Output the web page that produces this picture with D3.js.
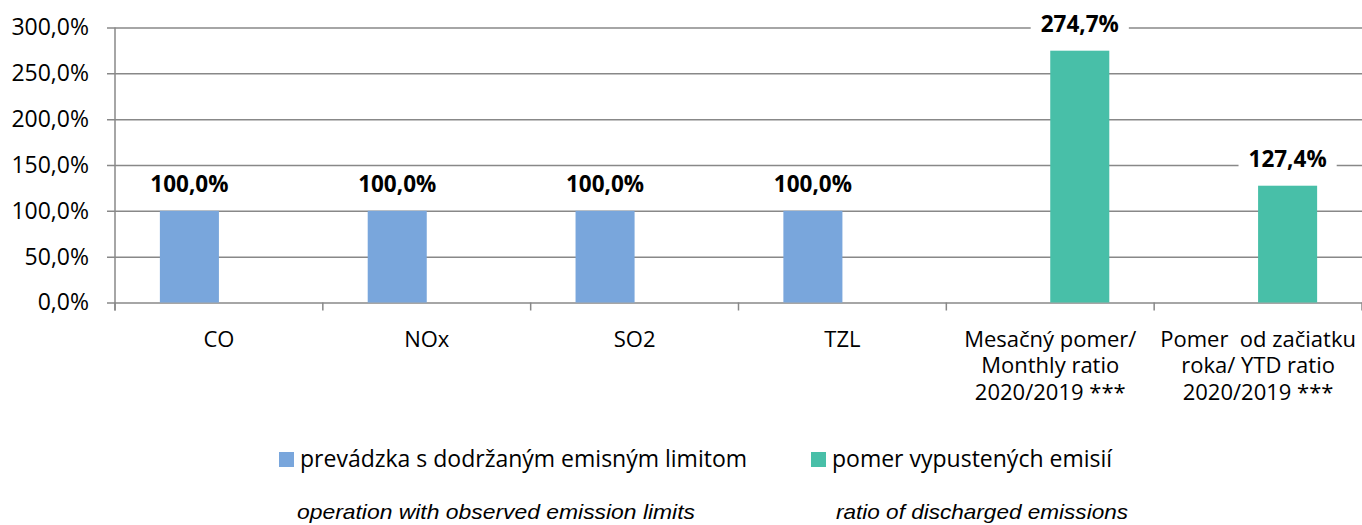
<!DOCTYPE html>
<html>
<head>
<meta charset="utf-8">
<script src="https://cdn.jsdelivr.net/npm/d3@7"></script>
<style>
  html, body { margin: 0; padding: 0; background: #fff; }
  svg { display: block; }
  text { font-family: "Open Sans", "Noto Sans", sans-serif; fill: #000; }
</style>
</head>
<body>
<svg id="chart" width="1362" height="525"></svg>
<script>
// ---- data ----
const categories = ["CO", "NOx", "SO2", "TZL", "Mesačný pomer/|Monthly ratio|2020/2019 ***", "Pomer  od začiatku|roka/ YTD ratio|2020/2019 ***"];
const seriesNames = ["prevádzka s dodržaným emisným limitom", "pomer vypustených emisií"];
const seriesNotes = ["operation with observed emission limits", "ratio of discharged emissions"];
const complianceValues = [100, 100, 100, 100, null, null];
const ratioValues = [null, null, null, null, 274.7, 127.4];
const yTicks = [0, 50, 100, 150, 200, 250, 300];
const colors = ["#79A6DC", "#48BFA8"];

// ---- layout ----
const svg = d3.select("#chart");
const pLeft = 115, pRight = 1362, pTop = 27.5, pBottom = 302.5;
const locale = d3.formatLocale({decimal: ",", thousands: " ", grouping: [3], currency: ["", " €"]});
const pct = v => locale.format(".1f")(v) + "%";

const x = d3.scaleBand().domain(categories).range([pLeft, pRight]).paddingInner(0).paddingOuter(0);
const xSub = d3.scaleBand().domain([0, 1]).range([0, x.bandwidth()]).paddingInner(0).paddingOuter(0.76);
const y = d3.scaleLinear().domain([0, 300]).range([pBottom, pTop]);

// gridlines + y labels
const yAxis = d3.axisLeft(y).tickValues(yTicks).tickFormat(pct)
  .tickSizeInner(-(pRight - (pLeft - 8))).tickSizeOuter(0).tickPadding(18);
const gy = svg.append("g").attr("transform", `translate(${pLeft - 8},0)`).call(yAxis);
gy.select(".domain").remove();
gy.selectAll(".tick line").attr("stroke", "#888").attr("stroke-width", 1.5);
gy.selectAll(".tick text").attr("font-size", 23).attr("fill", "#000")
  .style("font-family", '"Open Sans", sans-serif');

// vertical axis line
svg.append("line").attr("x1", pLeft).attr("x2", pLeft).attr("y1", y(300)).attr("y2", pBottom + 8)
  .attr("stroke", "#888").attr("stroke-width", 1.5);

// bottom category boundary ticks
const bounds = categories.map(c => x(c)).concat([x(categories[categories.length - 1]) + x.bandwidth()]);
svg.append("g").selectAll("line").data(bounds).join("line")
  .attr("x1", d => d).attr("x2", d => d).attr("y1", pBottom).attr("y2", pBottom + 8)
  .attr("stroke", "#888").attr("stroke-width", 1.5);

// category labels
const xAxis = d3.axisBottom(x).tickSize(0).tickFormat("");
const gx = svg.append("g").attr("transform", `translate(0,${pBottom})`).call(xAxis);
gx.select(".domain").remove();
gx.selectAll(".tick").each(function(d) {
  const lines = d.split("|");
  const t = d3.select(this).append("text").attr("text-anchor", "middle").attr("font-size", 22)
    .style("white-space", "pre").attr("fill", "#000");
  lines.forEach((ln, i) => {
    t.append("tspan").attr("x", 0).attr("y", 44 + i * 26.5).text(ln);
  });
});

// bars
const seriesData = [complianceValues, ratioValues];
seriesData.forEach((vals, si) => {
  const g = svg.append("g");
  const data = categories.map((c, i) => ({c, v: vals[i]})).filter(d => d.v != null);
  g.selectAll("rect").data(data).join("rect")
    .attr("x", d => x(d.c) + xSub(si)).attr("width", xSub.bandwidth())
    .attr("y", d => y(d.v)).attr("height", d => y(0) - y(d.v))
    .attr("fill", colors[si]);
  const vg = svg.append("g");
  data.forEach(d => {
    const cx = x(d.c) + xSub(si) + xSub.bandwidth() / 2;
    const t = vg.append("text").attr("x", cx).attr("y", y(d.v) - 19)
      .attr("text-anchor", "middle").attr("font-size", 22.5).attr("font-weight", "bold").text(pct(d.v));
    const bb = t.node().getBBox();
    vg.insert("rect", "text").attr("x", bb.x - 10).attr("y", bb.y + 3).attr("width", bb.width + 20)
      .attr("height", bb.height - 6).attr("fill", "#fff");
  });
});

// legend
const legendX = [279, 811];
const noteX = [297, 836];
const noteW = [398, 292];
const legendG = svg.append("g");
seriesNames.forEach((n, i) => {
  legendG.append("rect").attr("x", legendX[i]).attr("y", 452).attr("width", 15).attr("height", 15).attr("fill", colors[i]);
  legendG.append("text").attr("x", legendX[i] + 21).attr("y", 467).attr("font-size", 23).text(n);
  legendG.append("text").attr("x", noteX[i]).attr("y", 519).attr("font-size", 21)
    .attr("textLength", noteW[i]).attr("lengthAdjust", "spacingAndGlyphs")
    .style("font-family", '"Liberation Sans", Arial, sans-serif').attr("font-style", "italic").text(seriesNotes[i]);
});
</script>
</body>
</html>
